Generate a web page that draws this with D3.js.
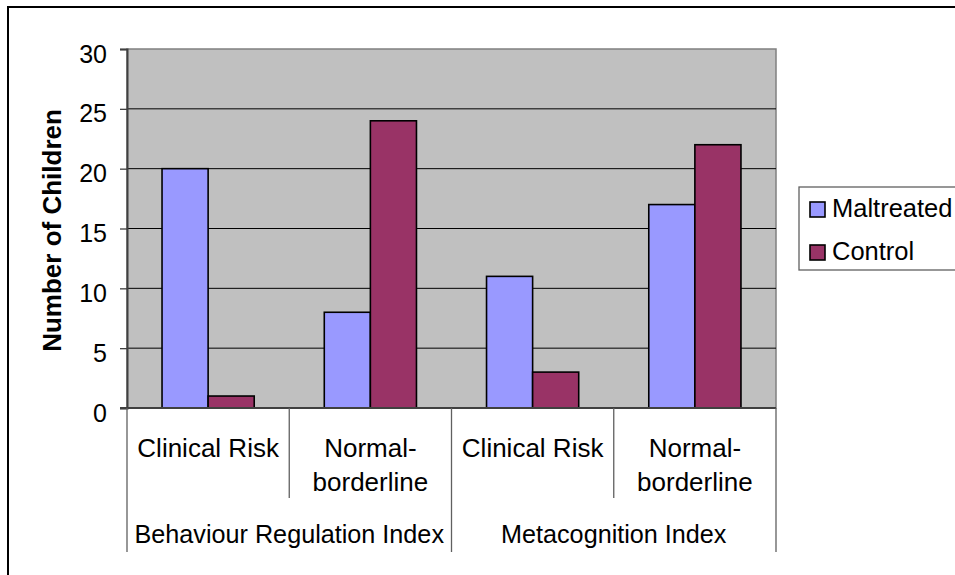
<!DOCTYPE html>
<html>
<head>
<meta charset="utf-8">
<script src="https://cdn.jsdelivr.net/npm/d3@7"></script>
<style>
  html, body { margin: 0; padding: 0; background: #fff; }
  svg { display: block; font-family: "Liberation Sans", Arial, sans-serif; }
</style>
</head>
<body>
<svg id="chart" width="955" height="575"></svg>
<script>
// Groups of categories and the categories within each group
const groups = ["Behaviour Regulation Index", "Metacognition Index"];
const subCategories = ["Clinical Risk", "Normal-\nborderline"];
const seriesNames = ["Maltreated", "Control"];
const maltreated = [20, 8, 11, 17];
const control = [1, 24, 3, 22];
const yTicks = [0, 5, 10, 15, 20, 25, 30];

const colors = { Maltreated: "#9999FF", Control: "#993366" };

const svg = d3.select("#chart");
const margin = { left: 127, right: 776, top: 49, bottom: 408 };

// flat list of the four categories
const cats = [];
groups.forEach((g, gi) => subCategories.forEach((s, si) => cats.push({ id: gi + "-" + si, group: g, label: s })));

const x = d3.scaleBand().domain(cats.map(c => c.id)).range([margin.left, margin.right]).paddingInner(0).paddingOuter(0);
const xs = d3.scaleBand().domain(seriesNames).range([0, x.bandwidth()]).paddingInner(0).paddingOuter(0.76);
const y = d3.scaleLinear().domain([0, 30]).range([margin.bottom, margin.top]);

// outer chart frame
svg.append("rect").attr("x", 8).attr("y", 7).attr("width", 1000).attr("height", 1000)
  .attr("fill", "none").attr("stroke", "#000").attr("stroke-width", 2);

// plot area
svg.append("rect").attr("x", margin.left).attr("y", margin.top)
  .attr("width", margin.right - margin.left).attr("height", margin.bottom - margin.top)
  .attr("fill", "#C0C0C0").attr("stroke", "#808080").attr("stroke-width", 1.5);

// gridlines
svg.append("g").selectAll("line").data(yTicks.filter(t => t > 0 && t < 30)).join("line")
  .attr("x1", margin.left).attr("x2", margin.right)
  .attr("y1", d => y(d)).attr("y2", d => y(d))
  .attr("stroke", "#000").attr("stroke-width", 1);

// y axis
const yAxis = svg.append("g").attr("transform", `translate(${margin.left},0)`)
  .call(d3.axisLeft(y).tickValues(yTicks).tickSize(7).tickPadding(13).tickFormat(d3.format("d")));
yAxis.select(".domain").attr("stroke", "#404040").attr("stroke-width", 2);
yAxis.selectAll(".tick line").attr("stroke", "#404040").attr("stroke-width", 1.3);
yAxis.selectAll(".tick text").attr("font-size", 25).attr("fill", "#000")
  .attr("font-family", "'Liberation Sans', Arial, sans-serif").attr("dy", "0.72em").attr("y", -5);

// bars
const barData = [];
cats.forEach((c, i) => {
  barData.push({ cat: c.id, series: "Maltreated", value: maltreated[i] });
  barData.push({ cat: c.id, series: "Control", value: control[i] });
});
svg.append("g").selectAll("rect").data(barData).join("rect")
  .attr("x", d => x(d.cat) + xs(d.series))
  .attr("width", xs.bandwidth())
  .attr("y", d => y(d.value))
  .attr("height", d => y(0) - y(d.value))
  .attr("fill", d => colors[d.series])
  .attr("stroke", "#000").attr("stroke-width", 1.6);

// category axis baseline
svg.append("line").attr("x1", margin.left - 7).attr("x2", margin.right)
  .attr("y1", margin.bottom).attr("y2", margin.bottom)
  .attr("stroke", "#404040").attr("stroke-width", 2);

// category separators: group boundaries are long, inner ones short
const boundaries = [];
cats.forEach((c, i) => boundaries.push({ x: x(c.id), long: i % 2 === 0 }));
boundaries.push({ x: margin.right, long: true });
svg.append("g").selectAll("line").data(boundaries).join("line")
  .attr("x1", d => d.x).attr("x2", d => d.x)
  .attr("y1", margin.bottom).attr("y2", d => d.long ? 552 : 498)
  .attr("stroke", "#606060").attr("stroke-width", 1.3);

// category labels
const catLabels = svg.append("g").attr("font-size", 26).attr("fill", "#000").attr("text-anchor", "middle");
cats.forEach(c => {
  const t = catLabels.append("text").attr("x", x(c.id) + x.bandwidth() / 2).attr("y", 457);
  c.label.split("\n").forEach((line, li) => {
    t.append("tspan").attr("x", x(c.id) + x.bandwidth() / 2).attr("dy", li === 0 ? 0 : 34).text(line);
  });
});

// group labels
groups.forEach((g, gi) => {
  const x0 = x(gi + "-0"), x1 = x(gi + "-1") + x.bandwidth();
  catLabels.append("text").attr("x", (x0 + x1) / 2).attr("y", 543).attr("font-size", 25.2).text(g);
});

// y axis title
svg.append("text").attr("transform", `translate(61,${(margin.top + margin.bottom) / 2 + 2}) rotate(-90)`)
  .attr("text-anchor", "middle").attr("font-size", 26).attr("font-weight", "bold").text("Number of Children");

// legend
const legend = svg.append("g");
legend.append("rect").attr("x", 799).attr("y", 187).attr("width", 300).attr("height", 83)
  .attr("fill", "#fff").attr("stroke", "#606060").attr("stroke-width", 1.3);
seriesNames.forEach((s, i) => {
  const yy = 202 + i * 43;
  legend.append("rect").attr("x", 810).attr("y", yy).attr("width", 15).attr("height", 15)
    .attr("fill", colors[s]).attr("stroke", "#000").attr("stroke-width", 1.6);
  legend.append("text").attr("x", 832).attr("y", yy + 15).attr("font-size", 25.5).text(s);
});
</script>
</body>
</html>
